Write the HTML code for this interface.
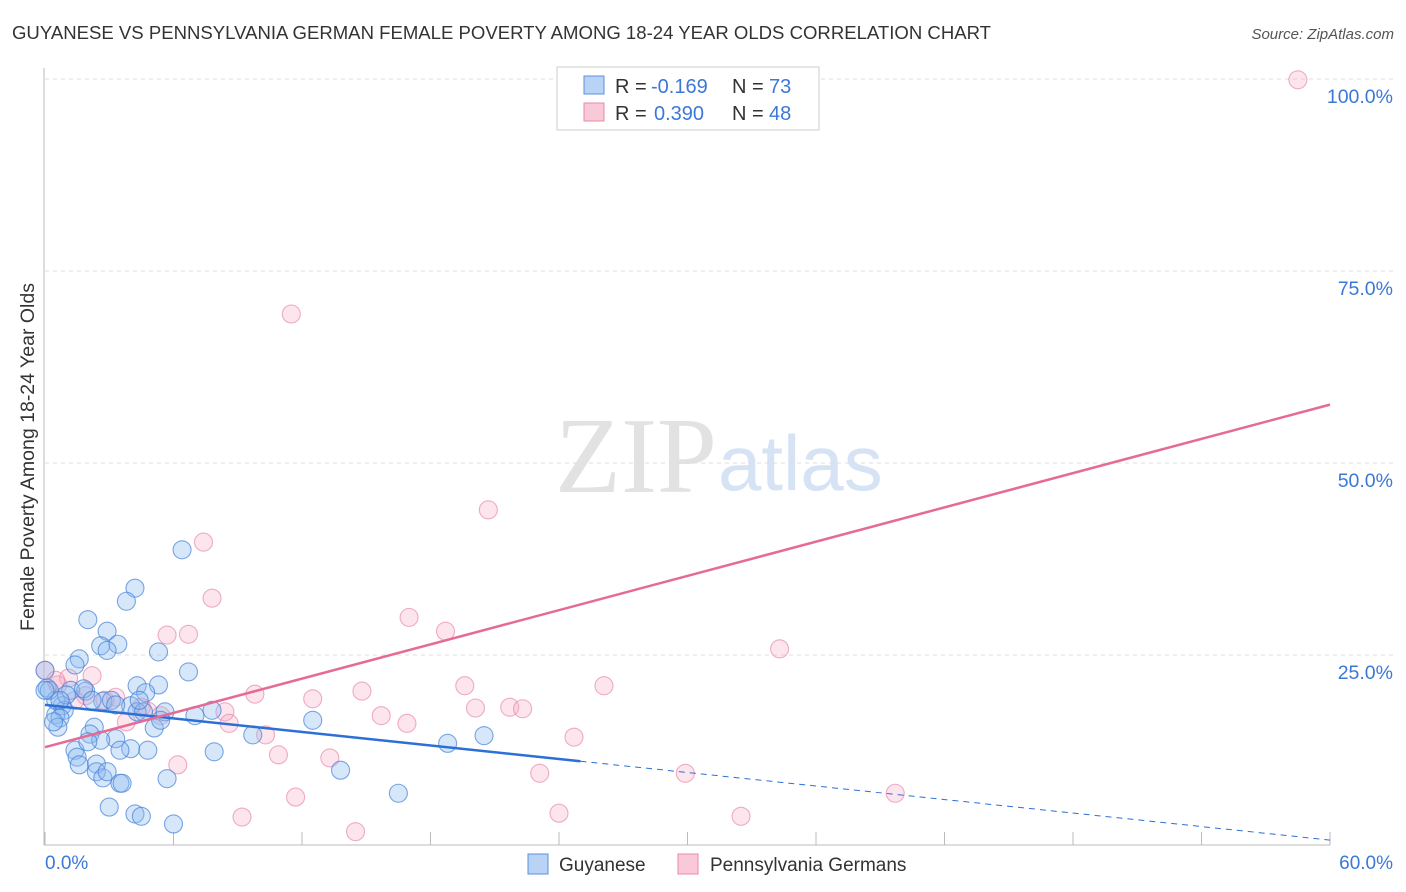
<!DOCTYPE html>
<html><head><meta charset="utf-8"><style>
body{margin:0;background:#fff;font-family:"Liberation Sans",sans-serif;}
svg{display:block}
</style></head><body>
<svg id="c" width="1406" height="892">
<text x="12" y="39" font-size="18.6" fill="#333" textLength="979" lengthAdjust="spacingAndGlyphs">GUYANESE VS PENNSYLVANIA GERMAN FEMALE POVERTY AMONG 18-24 YEAR OLDS CORRELATION CHART</text>
<text x="1394" y="39" font-size="15" fill="#555" font-style="italic" text-anchor="end">Source: ZipAtlas.com</text>
<text transform="translate(34,457) rotate(-90)" font-size="19.5" fill="#333" text-anchor="middle">Female Poverty Among 18-24 Year Olds</text>
<text x="555" y="492" font-size="108" fill="#e2e2e2" font-family="Liberation Serif,serif">ZIP</text>
<text x="718" y="490" font-size="78" fill="#d6e3f5">atlas</text>
<g id="grid"></g><g id="pts"></g><g id="lines"></g>
<g>
<rect x="557" y="67" width="262" height="63" fill="#fff" stroke="#ccc"/>
<rect x="584" y="76" width="20" height="18" fill="#b8d3f5" stroke="#5b8fdc"/>
<rect x="584" y="103" width="20" height="18" fill="#f9c9d8" stroke="#e88aa8"/>
<text x="615" y="93" font-size="20" fill="#333">R = <tspan x="651" fill="#3b78d8">-0.169</tspan><tspan x="732">N = </tspan><tspan x="769" fill="#3b78d8">73</tspan></text>
<text x="615" y="120" font-size="20" fill="#333">R = <tspan x="654" fill="#3b78d8">0.390</tspan><tspan x="732">N = </tspan><tspan x="769" fill="#3b78d8">48</tspan></text>
</g>
<g>
<rect x="528" y="854" width="20" height="20" fill="#b8d3f5" stroke="#5b8fdc"/>
<text x="559" y="871" font-size="19" fill="#333">Guyanese</text>
<rect x="678" y="854" width="20" height="20" fill="#f9c9d8" stroke="#e88aa8"/>
<text x="710" y="871" font-size="19" fill="#333">Pennsylvania Germans</text>
</g>
</svg>
<script>
const xTicks=[0,6,12,18,24,30,36,42,48,54,60];
const yTicks=[25,50,75,100];
const blue=[[6.4,38.7],[4.2,33.7],[3.8,32.0],[2.0,29.6],[2.9,28.1],[3.4,26.4],[2.6,26.2],[2.9,25.6],[5.3,25.4],[1.6,24.5],[1.4,23.7],[6.7,22.8],[0,23.0],[0.1,20.7],[1.2,20.4],[1.9,20.3],[1.8,20.6],[4.3,21.0],[5.3,21.1],[4.7,20.1],[2.7,19.0],[3.1,19.1],[4.0,18.4],[5.6,17.6],[7.8,17.8],[7.0,17.1],[4.3,17.6],[0.8,18.4],[0.9,17.8],[0.5,17.2],[0.7,16.8],[0.6,15.6],[2.3,15.6],[5.1,15.5],[12.5,16.5],[9.7,14.6],[2.1,14.7],[3.3,14.1],[4.0,12.8],[4.8,12.6],[1.4,12.6],[1.5,11.7],[7.9,12.4],[18.8,13.5],[20.5,14.5],[2.4,10.8],[1.6,10.7],[2.4,9.8],[2.7,9.0],[2.9,9.8],[3.5,8.3],[3.6,8.3],[5.7,8.9],[13.8,10.0],[16.5,7.0],[3.0,5.2],[4.2,4.3],[4.5,4.0],[6.0,3.0],[0.5,19.1],[0.2,20.4],[1.0,19.8],[0.7,19.1],[4.6,17.6],[3.5,12.6],[2.6,13.9],[2.0,13.7],[3.3,18.5],[4.4,19.1],[5.4,16.5],[0,20.4],[2.2,19.1],[0.4,16.3]];
const pink=[[58.5,99.9],[11.5,69.4],[20.7,43.9],[7.4,39.7],[7.8,32.4],[5.7,27.6],[6.7,27.7],[17.0,29.9],[18.7,28.1],[34.3,25.8],[0,23.0],[1.1,22.0],[2.2,22.3],[3.3,19.5],[2.8,19.1],[9.8,19.9],[12.5,19.3],[14.8,20.3],[19.6,21.0],[26.1,21.0],[20.1,18.1],[21.7,18.2],[22.3,18.0],[4.8,17.7],[5.4,17.1],[8.4,17.6],[8.6,16.1],[15.7,17.1],[16.9,16.1],[3.8,16.3],[10.3,14.6],[24.7,14.3],[10.9,12.0],[13.3,11.6],[6.2,10.7],[23.1,9.6],[29.9,9.6],[39.7,7.0],[11.7,6.5],[9.2,3.9],[14.5,2.0],[24.0,4.4],[32.5,4.0],[1.9,19.7],[0.6,21.1],[4.5,18.2],[1.4,19.1],[0.5,21.7]];
const blueTrend=[18.5,0.9]; const blueSolidEnd=25.0;
const pinkTrend=[13.0,57.6];
const NS='http://www.w3.org/2000/svg';
const X=v=>45+v/60*1285, Y=v=>847-v/100*768;
function mk(t,a,p){const e=document.createElementNS(NS,t);for(const k in a)e.setAttribute(k,a[k]);p.appendChild(e);return e;}
const g=document.getElementById('grid');
yTicks.forEach(t=>{
const l=mk('line',{x1:45,x2:1393,y1:Y(t),y2:Y(t),stroke:'#ddd','stroke-dasharray':'4,4'},g);


const tx=mk('text',{x:1393,y:Y(t)+24,'font-size':19.5,fill:'#3b78d8','text-anchor':'end'},g);
tx.textContent=t.toFixed(1)+'%';


});
mk('line',{x1:44,x2:44,y1:68,y2:845,stroke:'#bbb'},g);
mk('line',{x1:44,x2:1330,y1:845,y2:845,stroke:'#bbb'},g);
xTicks.forEach(t=>{const l=mk('line',{x1:X(t),x2:X(t),y1:832,y2:845,stroke:'#bbb'},g);

});
[[0,'start',45],[60,'end',1393]].forEach(([v,a,x])=>{const tx=mk('text',{x:x,y:869,'font-size':19,fill:'#3b78d8','text-anchor':a},g);tx.textContent=v.toFixed(1)+'%';

});
const p=document.getElementById('pts');
pink.forEach(d=>{const c=mk('circle',{cx:X(d[0]),cy:Y(d[1]),r:9,fill:'rgba(246,170,195,0.3)',stroke:'rgba(232,130,165,0.65)','stroke-width':1.1},p);

});
blue.forEach(d=>{const c=mk('circle',{cx:X(d[0]),cy:Y(d[1]),r:9,fill:'rgba(140,185,240,0.35)',stroke:'rgba(70,130,215,0.7)','stroke-width':1.1},p);

});
const L=document.getElementById('lines');
const bAt=x=>blueTrend[0]+(blueTrend[1]-blueTrend[0])*x/60;
let l1=mk('line',{x1:X(0),y1:Y(bAt(0)),x2:X(blueSolidEnd),y2:Y(bAt(blueSolidEnd)),stroke:'#2c6fd6','stroke-width':2.5},L);


let l2=mk('line',{x1:X(blueSolidEnd),y1:Y(bAt(blueSolidEnd)),x2:X(60),y2:Y(bAt(60)),stroke:'#2c6fd6','stroke-width':1,'stroke-dasharray':'6,5'},L);


let l3=mk('line',{x1:X(0),y1:Y(pinkTrend[0]),x2:X(60),y2:Y(pinkTrend[1]),stroke:'#e56a95','stroke-width':2.5},L);


</script>
</body></html>
